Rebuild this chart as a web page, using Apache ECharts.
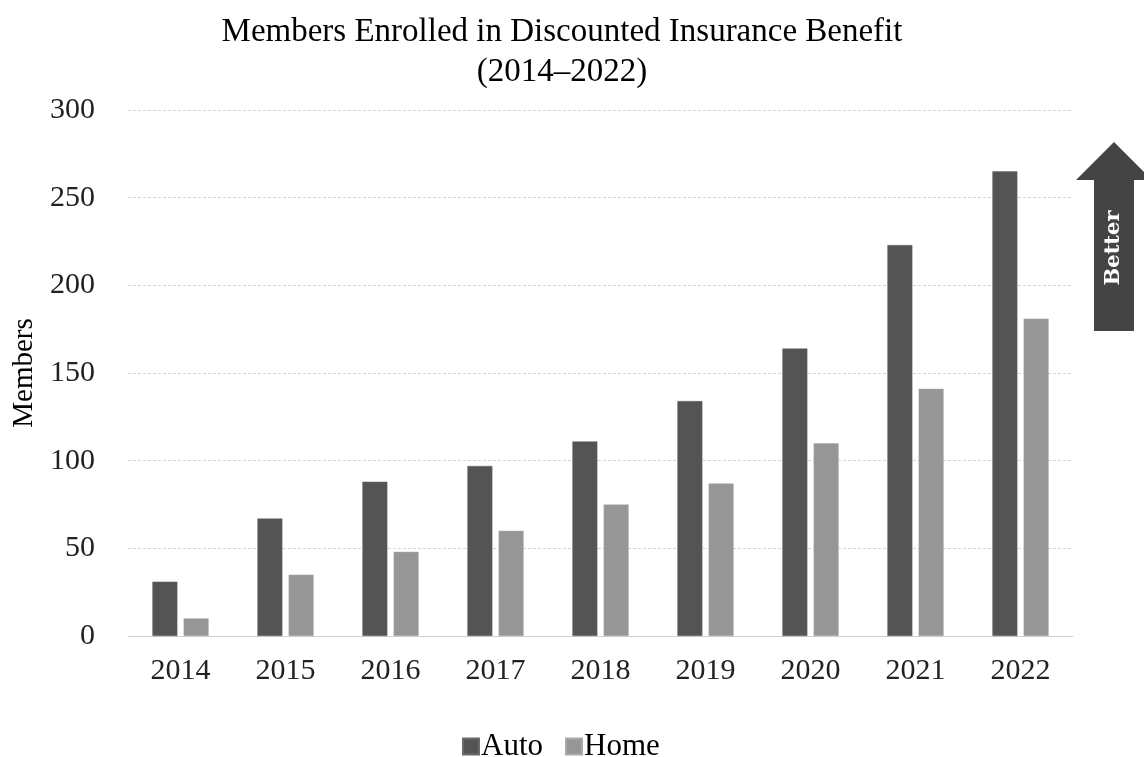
<!DOCTYPE html>
<html><head><meta charset="utf-8">
<script src="https://cdn.jsdelivr.net/npm/echarts@6/dist/echarts.min.js"></script>
<style>html,body{margin:0;padding:0;background:#fff}#c{width:1144px;height:757px}</style>
</head><body><div id="c"></div>
<script>
const categories = ['2014','2015','2016','2017','2018','2019','2020','2021','2022'];
const autoValues = [31, 67, 88, 97, 111, 134, 164, 223, 265];
const homeValues = [10, 35, 48, 60, 75, 87, 110, 141, 181];
const seriesNames = ['Auto','Home'];
const F = '"Liberation Serif", "Times New Roman", serif';
const chart = echarts.init(document.getElementById('c'), null, {renderer:'canvas'});
chart.setOption({
  backgroundColor:'#fff',
  animation:false,
  title:{
    text:'Members Enrolled in Discounted Insurance Benefit\n(2014–2022)',
    left:557, top:7, textAlign:'center',
    textStyle:{fontFamily:F, fontSize:33, fontWeight:'normal', color:'#000', lineHeight:40}
  },
  legend:{
    data:seriesNames, top:731, left:462, itemWidth:16, itemHeight:16, itemGap:22,
    icon:'rect', padding:0,
    textStyle:{fontFamily:F, fontSize:31, color:'#000', padding:[0,0,0,-3]}
  },
  grid:{left:128, right:71, top:110, bottom:121, containLabel:false, outerBoundsMode:'none'},
  xAxis:{
    type:'category', data:categories,
    axisLine:{lineStyle:{color:'#d0d0d0'}},
    axisTick:{show:false},
    axisLabel:{fontFamily:F, fontSize:30, color:'#222', margin:20}
  },
  yAxis:{
    type:'value', min:0, max:300, interval:50,
    name:'Members', nameLocation:'middle', nameGap:86, nameRotate:90,
    nameTextStyle:{fontFamily:F, fontSize:29, color:'#000'},
    axisLine:{show:false}, axisTick:{show:false},
    axisLabel:{fontFamily:F, fontSize:30, color:'#222', margin:33},
    splitLine:{lineStyle:{color:'#d4d4d4', type:[3,2]}}
  },
  series:[
    {name:'Auto', type:'bar', data:autoValues, barWidth:25, barGap:'25%',
     itemStyle:{color:'#545454', borderColor:'#6a6a6a', borderWidth:0.5}},
    {name:'Home', type:'bar', data:homeValues, barWidth:25,
     itemStyle:{color:'#969696', borderColor:'#aaaaaa', borderWidth:0.5}}
  ],
  graphic:[
    {type:'polygon', z:10,
     shape:{points:[[1114,142],[1152,180],[1134,180],[1134,331],[1094,331],[1094,180],[1076,180]]},
     style:{fill:'#444444'}},
    {type:'text', z:11, x:1114, y:248, rotation:Math.PI/2,
     style:{text:'Better', fill:'#ffffff', font:'bold 21px "DejaVu Serif", serif', align:'center', verticalAlign:'middle'}}
  ]
});
</script></body></html>
